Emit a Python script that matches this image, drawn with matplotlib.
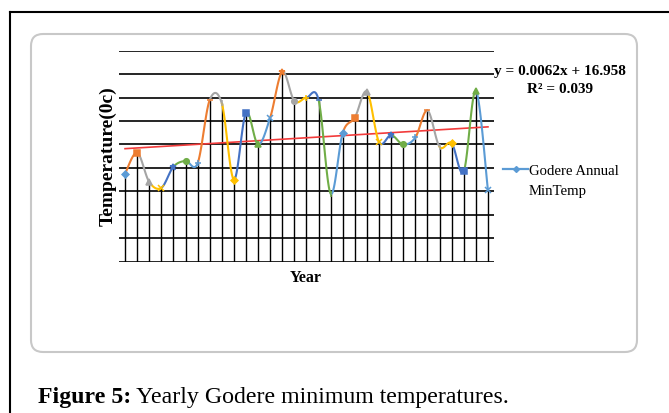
import numpy as np
import matplotlib
matplotlib.use("Agg")
import matplotlib.pyplot as plt
from matplotlib.patches import FancyBboxPatch

# Datos (temperatura mínima anual, Godere)
anios = np.arange(1, 32)
temp_min = [16.75, 16.93, 16.68, 16.63, 16.81, 16.86, 16.84, 17.38, 17.35, 16.70,
            17.27, 17.00, 17.23, 17.62, 17.37, 17.40, 17.38, 16.58, 17.10, 17.23,
            17.45, 17.02, 17.08, 17.00, 17.06, 17.29, 16.98, 17.01, 16.77, 17.46,
            16.61]
pendiente = 0.0062
ordenada = 16.958
texto_ecuacion = "y = 0.0062x + 16.958"
texto_r2 = "R² = 0.039"
nombre_serie = ["Godere Annual", "MinTemp"]

colores = ["#5B9BD5", "#ED7D31", "#A5A5A5", "#FFC000", "#4472C4", "#70AD47"]
marcadores = ["D", "s", "^", "x", "*", "o", "+", "_", "|"]
tam_marc = [3.5, 4.5, 4, 4, 5, 4, 5, 5, 5]
fuente = "Liberation Serif"


def tramo_suave(p0, p1, p2, p3, n=20):
    # Bezier tipo Excel (Catmull-Rom) entre p1 y p2
    c1 = p1 + (p2 - p0) / 6.0
    c2 = p2 - (p3 - p1) / 6.0
    t = np.linspace(0, 1, n)[:, None]
    return ((1 - t) ** 3) * p1 + 3 * ((1 - t) ** 2) * t * c1 + 3 * (1 - t) * t ** 2 * c2 + t ** 3 * p2


fig = plt.figure(figsize=(6.69, 4.14), dpi=100)

# capa de fondo en pixeles para marco, caja, textos
fondo = fig.add_axes([0, 0, 1, 1])
fondo.set_xlim(0, 669)
fondo.set_ylim(414, 0)
fondo.axis("off")
fondo.plot([10, 669], [13, 13], color="black", lw=1.5)
fondo.plot([10, 10], [13, 414], color="black", lw=1.5)
caja = FancyBboxPatch((31, 35), 606, 318, boxstyle="round,pad=0,rounding_size=12",
                      facecolor="white", edgecolor="#c8c8c8", lw=1.5)
fondo.add_patch(caja)

# ejes del grafico
ax = fig.add_axes([119 / 669, (414 - 262.7) / 414, 375 / 669, 211 / 414])
ax.set_xlim(0.5, 31.5)
ax.set_ylim(16.0, 17.8)
ax.axis("off")
for yv in np.arange(16.0, 17.81, 0.2):
    ax.axhline(yv, color="black", lw=1.2, zorder=1)
ax.vlines(anios, 16.0, temp_min, color="black", lw=1.0, zorder=1)

# linea suavizada, con un color por tramo
pts = np.column_stack([anios, temp_min]).astype(float)
ext = np.vstack([pts[0], pts, pts[-1]])
for i in range(len(pts) - 1):
    seg = tramo_suave(ext[i], ext[i + 1], ext[i + 2], ext[i + 3])
    ax.plot(seg[:, 0], seg[:, 1], color=colores[(i + 1) % 6], lw=1.5, zorder=3,
            solid_capstyle="round")
for i in range(len(pts)):
    ax.plot(anios[i], temp_min[i], marker=marcadores[i % 9], color=colores[i % 6],
            markersize=tam_marc[i % 9], mew=1.1, zorder=4)

# linea de tendencia
ax.plot([anios[0], anios[-1]], [pendiente * anios[0] + ordenada, pendiente * anios[-1] + ordenada],
        color="#F23B3B", lw=1.2, zorder=2)

# textos
fondo.text(108, 156, "Temperature(0c)", rotation=90, ha="center", va="center",
           fontsize=14, fontweight="bold", family=fuente)
fondo.text(306, 278, "Year", ha="center", va="center", fontsize=11.5,
           fontweight="bold", family=fuente)
fondo.text(560, 75, texto_ecuacion, ha="center", va="baseline", fontsize=11,
           fontweight="bold", family=fuente)
fondo.text(560, 93, texto_r2, ha="center", va="baseline", fontsize=11,
           fontweight="bold", family=fuente)

fondo.plot([503, 528], [170, 170], color="#5B9BD5", lw=1.6)
fondo.plot([515.5], [170], marker="D", color="#5B9BD5", markersize=3)
fondo.text(529, 175, nombre_serie[0], ha="left", va="baseline", fontsize=10.6, family=fuente)
fondo.text(529, 195, nombre_serie[1], ha="left", va="baseline", fontsize=10.6, family=fuente)

# pie de figura
t1 = fondo.text(38, 403, "Figure 5:", ha="left", va="baseline", fontsize=17.2,
                fontweight="bold", family=fuente)
fig.canvas.draw()
bb = t1.get_window_extent().transformed(fondo.transData.inverted())
fondo.text(bb.x1, 403, " Yearly Godere minimum temperatures.", ha="left", va="baseline",
           fontsize=17.2, family=fuente)

fig.savefig("out.png", dpi=100)
